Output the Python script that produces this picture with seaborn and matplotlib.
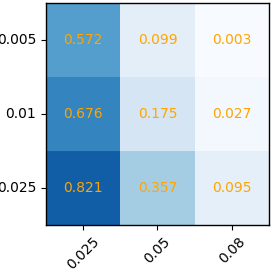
import numpy as np
import pandas as pd
import matplotlib
matplotlib.use('Agg')
import matplotlib.pyplot as plt
import seaborn as sns

# valores
row_labels = ['0.005', '0.01', '0.025']
col_labels = ['0.025', '0.05', '0.08']
row_0005 = [0.572, 0.099, 0.003]
row_001 = [0.676, 0.175, 0.027]
row_0025 = [0.821, 0.357, 0.095]

df = pd.DataFrame([row_0005, row_001, row_0025], index=row_labels, columns=col_labels)

fig = plt.figure(figsize=(2.72, 2.70), dpi=100)
ax = fig.add_axes([0.169, 0.167, 0.820, 0.822])
sns.heatmap(df, cmap='Blues', vmin=0, vmax=1, cbar=False, annot=True, fmt='.3f',
            annot_kws={'color': 'orange', 'fontsize': 10}, ax=ax)

for s in ax.spines.values():
    s.set_visible(True)
    s.set_color('black')
    s.set_linewidth(1.0)

ax.tick_params(axis='both', length=3.5, width=0.8, labelsize=10)
plt.setp(ax.get_xticklabels(), rotation=45, ha='center')
plt.setp(ax.get_yticklabels(), rotation=0)
ax.set_xlabel('')
ax.set_ylabel('')

fig.savefig('out.png', dpi=100)
